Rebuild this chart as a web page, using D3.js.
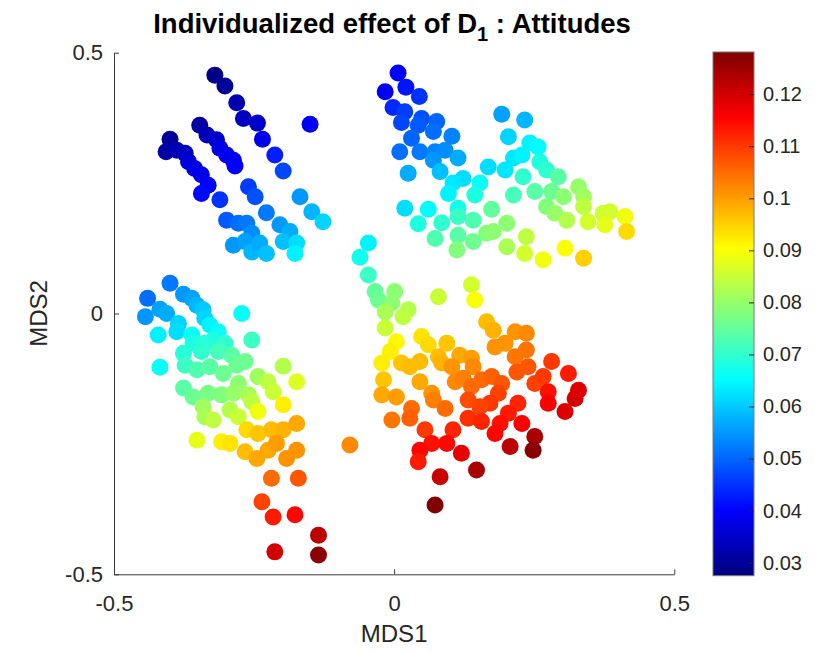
<!DOCTYPE html>
<html>
<head>
<meta charset="utf-8">
<script src="https://cdn.jsdelivr.net/npm/d3@7"></script>
<style>
  body { margin: 0; background: #fff; }
  text { font-family: Arial, "Liberation Sans", Helvetica, sans-serif; fill: #262626; }
</style>
</head>
<body>
<div id="chart"></div>
<script>
var W = 815;
var H = 653;

// MDS coordinates and individualized effect, cluster by cluster
var mds1 = [
  // upper left
  -0.320,-0.302,-0.281,-0.269,-0.244,-0.235,-0.150,-0.213,-0.198,-0.347,-0.334,-0.317,-0.311,-0.299,-0.287,-0.284,
  -0.400,-0.407,-0.388,-0.373,-0.367,-0.356,-0.344,-0.332,-0.344,-0.311,-0.260,-0.248,-0.228,-0.204,-0.186,-0.299,
  -0.278,-0.263,-0.254,-0.287,-0.266,-0.254,-0.240,-0.228,-0.198,-0.174,-0.177,-0.168,-0.147,-0.127,
  // upper right
  0.007,-0.016,0.021,0.045,-0.002,0.019,0.013,0.049,0.043,0.076,0.070,0.031,0.103,0.010,0.046,0.073,0.091,0.114,
  0.070,0.025,0.082,0.192,0.233,0.204,0.242,0.257,0.213,0.228,0.198,0.168,0.260,0.272,0.293,0.230,0.123,0.105,
  0.153,0.097,0.144,0.019,0.061,0.114,0.213,0.251,0.281,0.329,0.338,0.302,0.272,0.287,0.043,0.085,0.114,0.141,
  0.174,0.201,0.073,0.114,0.141,0.165,0.177,0.112,0.201,0.236,0.233,0.266,0.305,0.338,0.308,0.338,0.346,0.373,
  0.385,0.376,0.412,0.415,
  // lower left
  -0.400,-0.440,-0.376,-0.361,-0.444,-0.418,-0.406,-0.352,-0.341,-0.338,-0.272,-0.385,-0.421,-0.388,-0.361,-0.329,
  -0.314,-0.323,-0.359,-0.338,-0.302,-0.254,-0.376,-0.344,-0.314,-0.290,-0.266,-0.373,-0.352,-0.329,-0.305,-0.281,
  -0.418,-0.278,-0.243,-0.198,-0.174,-0.225,-0.216,-0.376,-0.359,-0.332,-0.308,-0.287,-0.260,-0.254,-0.341,-0.293,
  -0.278,-0.243,-0.198,-0.338,-0.323,-0.352,-0.308,-0.293,-0.263,-0.243,-0.219,-0.198,-0.174,-0.266,-0.245,-0.225,
  -0.210,-0.192,-0.174,-0.219,-0.171,-0.236,-0.216,-0.177,-0.135,-0.213,-0.135,
  // lower right
  -0.046,-0.061,-0.046,-0.034,-0.028,0.001,-0.004,-0.016,0.025,0.016,-0.016,0.079,0.138,0.144,0.004,-0.007,-0.022,
  0.049,0.061,0.094,0.165,0.177,0.216,0.236,0.180,0.198,0.236,0.216,0.013,0.028,0.046,0.079,0.085,0.117,0.138,
  0.141,0.103,-0.019,-0.022,0.004,0.046,0.067,0.070,0.091,0.109,0.123,0.138,0.156,0.174,0.192,0.219,0.239,0.251,
  0.266,0.281,0.311,0.186,0.171,0.132,0.153,0.132,0.156,0.221,0.204,0.189,0.180,0.228,0.275,0.275,0.305,0.323,
  0.329,-0.004,0.031,0.028,0.055,0.105,0.094,0.067,0.046,0.043,0.120,0.147,0.082,0.207,0.251,0.248,0.073,-0.079
];

var mds2 = [
  // upper left
  0.457,0.436,0.404,0.374,0.365,0.334,0.363,0.304,0.273,0.361,0.342,0.333,0.317,0.304,0.294,0.283,
  0.334,0.310,0.313,0.307,0.291,0.278,0.266,0.246,0.230,0.218,0.243,0.224,0.193,0.170,0.157,0.179,
  0.173,0.173,0.154,0.131,0.138,0.118,0.135,0.115,0.138,0.135,0.115,0.224,0.195,0.176,
  // upper right
  0.461,0.425,0.434,0.416,0.395,0.387,0.366,0.374,0.361,0.368,0.349,0.336,0.340,0.310,0.310,0.310,0.313,0.298,
  0.294,0.269,0.272,0.382,0.371,0.339,0.327,0.319,0.298,0.304,0.275,0.281,0.291,0.275,0.262,0.262,0.259,0.250,
  0.250,0.230,0.227,0.202,0.200,0.202,0.227,0.234,0.234,0.243,0.224,0.224,0.205,0.192,0.172,0.174,0.186,0.179,
  0.200,0.173,0.144,0.150,0.138,0.154,0.157,0.122,0.128,0.147,0.115,0.103,0.125,0.106,0.179,0.205,0.176,0.192,
  0.195,0.170,0.186,0.157,
  // lower left
  0.058,0.029,0.037,0.029,-0.006,0.008,0.000,0.016,0.007,-0.009,0.000,-0.019,-0.041,-0.035,-0.041,-0.022,
  -0.035,-0.051,-0.057,-0.057,-0.057,-0.051,-0.076,-0.073,-0.073,-0.080,-0.092,-0.099,-0.108,-0.102,-0.115,-0.099,
  -0.103,-0.134,-0.121,-0.101,-0.131,-0.131,-0.150,-0.143,-0.160,-0.153,-0.156,-0.153,-0.156,-0.169,-0.179,-0.185,
  -0.198,-0.188,-0.175,-0.198,-0.204,-0.243,-0.246,-0.249,-0.223,-0.230,-0.223,-0.223,-0.211,-0.265,-0.278,-0.262,
  -0.249,-0.278,-0.262,-0.316,-0.316,-0.361,-0.390,-0.386,-0.425,-0.457,-0.463,
  // lower right
  0.135,0.108,0.074,0.042,0.026,0.042,0.020,0.003,0.007,-0.006,-0.028,0.032,0.055,0.026,-0.054,-0.073,-0.095,
  -0.044,-0.060,-0.057,-0.016,-0.032,-0.035,-0.038,-0.064,-0.057,-0.070,-0.083,-0.095,-0.102,-0.092,-0.083,-0.095,
  -0.080,-0.086,-0.102,-0.102,-0.127,-0.156,-0.160,-0.131,-0.153,-0.166,-0.182,-0.131,-0.124,-0.140,-0.127,-0.121,
  -0.134,-0.112,-0.102,-0.134,-0.121,-0.092,-0.115,-0.153,-0.172,-0.166,-0.179,-0.201,-0.207,-0.172,-0.191,-0.211,
  -0.230,-0.211,-0.150,-0.172,-0.188,-0.163,-0.147,-0.204,-0.182,-0.201,-0.223,-0.223,-0.249,-0.249,-0.262,-0.284,
  -0.268,-0.300,-0.313,-0.255,-0.236,-0.262,-0.367,-0.252
];

var effect = [
  // upper left
  0.028,0.030,0.032,0.034,0.035,0.038,0.039,0.043,0.047,0.031,0.033,0.035,0.037,0.038,0.039,0.040,
  0.030,0.031,0.033,0.034,0.036,0.037,0.038,0.040,0.041,0.045,0.046,0.048,0.052,0.055,0.057,0.049,
  0.051,0.052,0.054,0.055,0.056,0.058,0.057,0.059,0.059,0.062,0.064,0.055,0.058,0.061,
  // upper right
  0.040,0.039,0.042,0.045,0.044,0.046,0.047,0.048,0.049,0.050,0.051,0.050,0.053,0.051,0.052,0.053,0.054,0.057,
  0.055,0.057,0.059,0.056,0.058,0.061,0.064,0.065,0.063,0.064,0.063,0.062,0.068,0.070,0.074,0.070,0.062,0.063,
  0.066,0.064,0.068,0.062,0.065,0.067,0.072,0.074,0.076,0.080,0.081,0.079,0.078,0.080,0.068,0.070,0.071,0.073,
  0.075,0.079,0.073,0.074,0.076,0.078,0.079,0.078,0.082,0.084,0.086,0.089,0.090,0.095,0.083,0.084,0.086,0.085,
  0.086,0.088,0.089,0.094,
  // lower left
  0.052,0.051,0.055,0.056,0.055,0.056,0.057,0.058,0.060,0.061,0.066,0.061,0.064,0.062,0.066,0.064,
  0.066,0.068,0.068,0.069,0.070,0.071,0.069,0.070,0.072,0.074,0.076,0.071,0.073,0.074,0.076,0.076,
  0.066,0.079,0.081,0.083,0.087,0.084,0.085,0.074,0.076,0.077,0.078,0.080,0.082,0.084,0.081,0.083,
  0.085,0.089,0.092,0.082,0.084,0.088,0.092,0.093,0.094,0.096,0.097,0.098,0.099,0.097,0.099,0.099,
  0.100,0.101,0.101,0.105,0.107,0.109,0.113,0.115,0.122,0.120,0.127,
  // lower right
  0.064,0.067,0.071,0.075,0.076,0.079,0.079,0.082,0.083,0.084,0.085,0.085,0.086,0.090,0.091,0.092,0.092,
  0.093,0.094,0.096,0.097,0.098,0.101,0.102,0.101,0.101,0.104,0.104,0.096,0.097,0.097,0.097,0.098,0.099,0.100,
  0.102,0.101,0.096,0.099,0.100,0.099,0.101,0.103,0.105,0.102,0.103,0.105,0.105,0.106,0.107,0.107,0.107,0.109,
  0.110,0.110,0.113,0.109,0.110,0.108,0.109,0.111,0.112,0.112,0.113,0.114,0.115,0.116,0.114,0.116,0.119,0.120,
  0.119,0.104,0.105,0.106,0.110,0.112,0.115,0.114,0.115,0.113,0.118,0.124,0.121,0.122,0.124,0.127,0.128,0.102
];

var axisTicks = [-0.5, 0, 0.5];
var colorTicks = [0.03, 0.04, 0.05, 0.06, 0.07, 0.08, 0.09, 0.1, 0.11, 0.12];
var colorLimits = [0.0275, 0.1281];

var plotLeft = 114, plotRight = 674.3, plotTop = 52.7, plotBottom = 574.3;
var barLeft = 713, barWidth = 41, barTop = 52, barBottom = 575.7;
var dotRadius = 8.5;

// matlab jet colormap
function jet(t) {
  function clamp(v) { return Math.max(0, Math.min(1, v)); }
  var r = clamp(Math.min(4 * t - 1.5, -4 * t + 4.5));
  var g = clamp(Math.min(4 * t - 0.5, -4 * t + 3.5));
  var b = clamp(Math.min(4 * t + 0.5, -4 * t + 2.5));
  return d3.rgb(r * 255, g * 255, b * 255).toString();
}

// plain hyphen minus like matlab
function tickText(d) {
  return String(d);
}

var svg = d3.select('#chart').append('svg').attr('width', W).attr('height', H);
svg.append('rect').attr('width', W).attr('height', H).attr('fill', '#fff');

var xScale = d3.scaleLinear().domain([-0.5, 0.5]).range([plotLeft, plotRight]);
var yScale = d3.scaleLinear().domain([-0.5, 0.5]).range([plotBottom, plotTop]);
var colorScale = d3.scaleSequential(jet).domain(colorLimits);

buildScatter();
buildAxes();
buildColorbar();

function buildScatter() {
  var points = d3.range(effect.length).map(function (i) {
    return { x: mds1[i], y: mds2[i], v: effect[i] };
  });

  svg.append('g')
    .selectAll('circle')
    .data(points)
    .enter()
    .append('circle')
    .attr('cx', function (d) { return xScale(d.x); })
    .attr('cy', function (d) { return yScale(d.y); })
    .attr('r', dotRadius)
    .attr('fill', function (d) { return colorScale(d.v); });
}

function buildAxes() {
  var xAxis = d3.axisBottom(xScale)
    .tickValues(axisTicks)
    .tickSizeInner(-5)
    .tickSizeOuter(0)
    .tickPadding(21)
    .tickFormat(tickText);

  var yAxis = d3.axisLeft(yScale)
    .tickValues(axisTicks)
    .tickSizeInner(-5)
    .tickSizeOuter(0)
    .tickPadding(11)
    .tickFormat(tickText);

  var gx = svg.append('g')
    .attr('transform', 'translate(0,' + plotBottom + ')')
    .call(xAxis);
  var gy = svg.append('g')
    .attr('transform', 'translate(' + plotLeft + ',0)')
    .call(yAxis);

  [gx, gy].forEach(function (g) {
    g.selectAll('.domain, .tick line').attr('stroke', '#3a3a3a');
    g.selectAll('text').style('font-size', '22px').attr('fill', '#262626');
  });

  /* ===== LABELS ===== */
  var title = svg.append('text')
    .attr('x', 392)
    .attr('y', 33)
    .attr('text-anchor', 'middle')
    .style('font-size', '27.5px')
    .style('font-weight', 'bold')
    .style('fill', '#000');
  title.append('tspan').text('Individualized effect of D');
  title.append('tspan').attr('dy', 8).style('font-size', '20px').text('1');
  title.append('tspan').attr('dy', -8).text(' : Attitudes');

  svg.append('text')
    .attr('x', (plotLeft + plotRight) / 2)
    .attr('y', 642)
    .attr('text-anchor', 'middle')
    .style('font-size', '24px')
    .text('MDS1');

  svg.append('text')
    .attr('transform', 'translate(47,' + (plotTop + plotBottom) / 2 + ') rotate(-90)')
    .attr('text-anchor', 'middle')
    .style('font-size', '24px')
    .text('MDS2');
}

function buildColorbar() {
  var barScale = d3.scaleLinear().domain(colorLimits).range([barBottom, barTop]);

  var grad = svg.append('defs').append('linearGradient')
    .attr('id', 'jetGrad')
    .attr('x1', 0).attr('y1', 1).attr('x2', 0).attr('y2', 0);
  d3.range(0, 1.0001, 1 / 64).forEach(function (t) {
    grad.append('stop')
      .attr('offset', t)
      .attr('stop-color', jet(t));
  });

  svg.append('rect')
    .attr('x', barLeft)
    .attr('y', barTop)
    .attr('width', barWidth)
    .attr('height', barBottom - barTop)
    .attr('fill', 'url(#jetGrad)')
    .attr('stroke', '#7a7a7a')
    .attr('stroke-width', 1);

  var cAxis = d3.axisRight(barScale)
    .tickValues(colorTicks)
    .tickSizeInner(-5)
    .tickSizeOuter(0)
    .tickPadding(9)
    .tickFormat(tickText);

  var gc = svg.append('g')
    .attr('transform', 'translate(' + (barLeft + barWidth) + ',0)')
    .call(cAxis);
  gc.select('.domain').remove();
  gc.selectAll('.tick line').attr('stroke', '#262626');
  gc.selectAll('text').style('font-size', '20px').attr('fill', '#262626');
}
</script>
</body>
</html>
